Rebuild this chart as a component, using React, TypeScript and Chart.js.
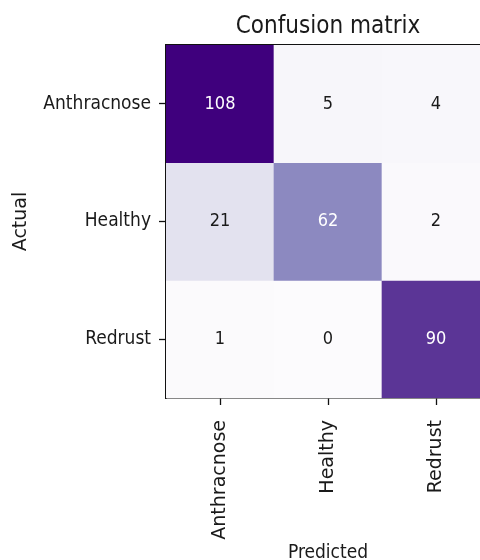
import React, { useEffect, useRef } from "react";
import { Chart, registerables } from "chart.js";

Chart.register(...registerables);

// ---- data ----
const classes = ["Anthracnose", "Healthy", "Redrust"];
const rowAnthracnose = [108, 5, 4];
const rowHealthy = [21, 62, 2];
const rowRedrust = [1, 0, 90];
const matrixRows = [rowAnthracnose, rowHealthy, rowRedrust];
const titleText = "Confusion matrix";
const xTitleText = "Predicted";
const yTitleText = "Actual";

// ---- style ----
const COND = "'DejaVu Sans Condensed', 'DejaVu Sans', sans-serif";
const NORM = "'DejaVu Sans', sans-serif";
const PURPLES = ["#fcfbfd", "#efedf5", "#dadaeb", "#bcbddc", "#9e9ac8", "#807dba", "#6a51a3", "#54278f", "#3f007d"];

function hexToRgb(h: string) {
  const n = parseInt(h.slice(1), 16);
  return [(n >> 16) & 255, (n >> 8) & 255, n & 255];
}
function purples(t: number) {
  const tt = Math.max(0, Math.min(1, t)) * (PURPLES.length - 1);
  const i = Math.min(PURPLES.length - 2, Math.floor(tt));
  const f = tt - i;
  const a = hexToRgb(PURPLES[i]);
  const b = hexToRgb(PURPLES[i + 1]);
  const c = a.map((v, k) => Math.round(v + (b[k] - v) * f));
  return `rgb(${c[0]},${c[1]},${c[2]})`;
}

const vmax = Math.max(...matrixRows.flat());

const cellTextPlugin = {
  id: "cellText",
  afterDatasetsDraw(chart: any) {
    const { ctx, scales } = chart;
    const x = scales.x;
    const y = scales.y;
    ctx.save();
    ctx.font = `18px ${COND}`;
    ctx.textAlign = "center";
    ctx.textBaseline = "middle";
    matrixRows.forEach((row, i) =>
      row.forEach((v, j) => {
        ctx.fillStyle = v > vmax / 2 ? "#ffffff" : "#1a1a1a";
        ctx.fillText(String(v), x.getPixelForValue(j), y.getPixelForValue(i));
      })
    );
    ctx.restore();
  },
};

export default function App() {
  const ref = useRef<HTMLCanvasElement | null>(null);

  useEffect(() => {
    if (!ref.current) return;
    const datasets = matrixRows.map((row, i) => ({
      label: classes[i],
      data: row.map(() => [i - 0.5, i + 0.5]),
      backgroundColor: row.map((v) => purples(v / vmax)),
      borderWidth: 0,
      barPercentage: 1,
      categoryPercentage: 1,
      grouped: false,
    }));

    const chart = new Chart(ref.current, {
      type: "bar",
      data: { labels: classes, datasets: datasets as any },
      options: {
        animation: false,
        responsive: true,
        maintainAspectRatio: false,
        layout: { padding: { left: 0, right: 10, top: 0, bottom: 0 } },
        plugins: {
          legend: { display: false },
          tooltip: { enabled: false },
          title: {
            display: true,
            text: titleText,
            fullSize: false,
            color: "#1a1a1a",
            font: { family: COND, size: 24, weight: "normal" },
            padding: { top: 12.6, bottom: 3.6 },
          },
        },
        scales: {
          x: {
            type: "category",
            position: "bottom",
            offset: true,
            afterFit: (s: any) => {
              s.height = 162;
            },
            grid: {
              display: true,
              offset: false,
              drawOnChartArea: false,
              drawTicks: true,
              tickLength: 7,
              color: "#111",
              tickColor: "#111",
              tickWidth: 1.3,
            },
            border: { display: true, color: "#111", width: 1.5 },
            ticks: {
              autoSkip: false,
              minRotation: 90,
              maxRotation: 90,
              padding: 15,
              color: "#1a1a1a",
              font: { family: NORM, size: 19 },
            },
            title: {
              display: true,
              text: xTitleText,
              color: "#1a1a1a",
              font: { family: COND, size: 19, lineHeight: 0.75 },
              padding: { top: 0, bottom: 0 },
            },
          },
          xTop: {
            type: "linear",
            axis: "x",
            position: "top",
            min: 0,
            max: 1,
            afterFit: (s: any) => {
              s.height = 0;
            },
            grid: { display: false, drawTicks: false, drawOnChartArea: false },
            border: { display: true, color: "#111", width: 1.5 },
            ticks: { display: false },
          },
          y: {
            type: "linear",
            position: "left",
            min: -0.5,
            max: 2.5,
            reverse: true,
            afterFit: (s: any) => {
              s.width = 166;
            },
            afterBuildTicks: (s: any) => {
              s.ticks = classes.map((_, i) => ({ value: i }));
            },
            grid: {
              display: true,
              drawOnChartArea: false,
              drawTicks: true,
              tickLength: 7,
              color: "#111",
              tickColor: "#111",
              tickWidth: 1.3,
            },
            border: { display: true, color: "#111", width: 1.5 },
            ticks: {
              padding: 8,
              color: "#1a1a1a",
              font: { family: COND, size: 19 },
              callback: (v: any) => classes[Number(v)] ?? "",
            },
            title: {
              display: true,
              text: yTitleText,
              color: "#1a1a1a",
              font: { family: NORM, size: 19, lineHeight: 1.2 },
              padding: { top: 10, bottom: 0 },
            },
          },
        },
      } as any,
      plugins: [cellTextPlugin],
    });
    return () => chart.destroy();
  }, []);

  return (
    <div
      style={{
        position: "fixed",
        left: 0,
        top: 0,
        width: 480,
        height: 560,
        overflow: "hidden",
        background: "#ffffff",
      }}
    >
      <div style={{ position: "relative", width: 500, height: 560 }}>
        <canvas ref={ref} />
      </div>
    </div>
  );
}
